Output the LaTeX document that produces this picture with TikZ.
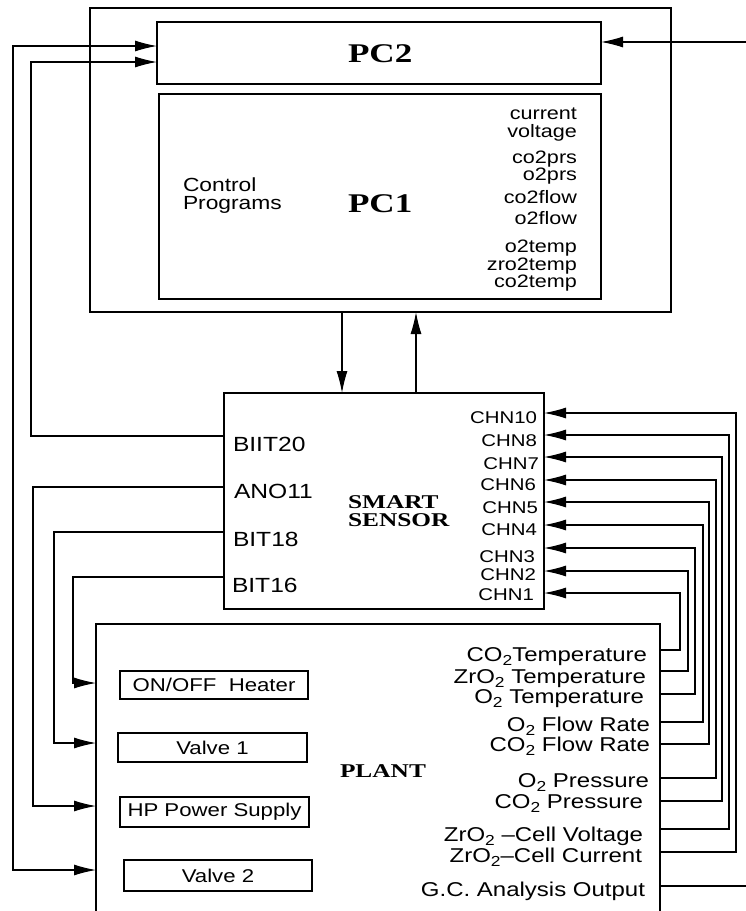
\documentclass[tikz,border=0pt]{standalone}
\usepackage{fontspec}
\usetikzlibrary{arrows.meta}
\newfontfamily\sfa[FakeStretch=1.2]{Liberation Sans}
\newfontfamily\srb[FakeStretch=1.3]{Liberation Serif}
\newcommand\fsz[1]{\fontsize{#1}{#1}\selectfont}
\newcommand\subtwo{\raisebox{-4pt}{\fontsize{14.5}{14.5}\selectfont 2}}
\begin{document}
\begin{tikzpicture}[x=1pt,y=-1pt,
  box/.style={draw, rectangle, inner sep=0pt, outer sep=0pt, anchor=north west},
  bigbox/.style={box, line width=2pt},
  smallbox/.style={box, line width=1.1pt, font=\sfa\fsz{18.5}},
  wire/.style={line width=1.1pt},
  arr/.style={wire, -{Latex[length=22pt,width=11pt]}},
  darr/.style={wire, {Latex[length=22pt,width=11pt]}-{Latex[length=22pt,width=11pt]}},
  txt/.style={inner sep=0pt, outer sep=0pt},
  pclab/.style={txt, anchor=base east, font=\sfa\fsz{18}},
  cplab/.style={txt, anchor=base west, font=\sfa\fsz{19}},
  inlab/.style={txt, anchor=base west, font=\sfa\fsz{20.5}},
  chlab/.style={txt, anchor=base east, font=\sfa\fsz{17}},
  pllab/.style={txt, anchor=base east, font=\sfa\fsz{20}},
  ttl/.style={txt, anchor=base west, font=\srb\bfseries\fsz{19.5}},
  bigttl/.style={txt, anchor=base west, font=\srb\bfseries\fsz{27}},
]
\useasboundingbox (0,0) rectangle (746,911);
\fill[white] (0,0) rectangle (746,911);
\begin{scope}
\clip (0,0) rectangle (746,911);

% ---------- boxes ----------
\node[bigbox, minimum width=581pt, minimum height=304pt] (pc) at (90,8) {};
\node[box, line width=1.1pt, minimum width=444pt, minimum height=62pt] (pc2) at (157,22) {};
\node[box, line width=1.1pt, minimum width=442pt, minimum height=205pt] (pc1) at (159,94) {};
\node[bigbox, minimum width=320pt, minimum height=216pt] (sensor) at (224,393) {};
\node[bigbox, minimum width=564pt, minimum height=340pt] (plant) at (96,624) {};

\node[smallbox, minimum width=188pt, minimum height=28pt] (heater) at (120,671) {ON/OFF\ \ Heater};
\node[smallbox, minimum width=189pt, minimum height=29pt] (valve1) at (118,733) {Valve 1};
\node[smallbox, minimum width=189pt, minimum height=30pt] (hp) at (120,797) {HP Power Supply};
\node[smallbox, minimum width=188pt, minimum height=31pt] (valve2) at (124,860) {Valve 2};

% ---------- titles ----------
\node[bigttl] (pc2t) at (348,62) {PC2};
\node[bigttl] (pc1t) at (348,212) {PC1};
\node[ttl] (smartt) at (348,508) {SMART};
\node[ttl] (sensort) at (348,526) {SENSOR};
\node[ttl] (plantt) at (340,777) {PLANT};

% ---------- PC1 texts ----------
\node[cplab] (cp1) at (183,191) {Control};
\node[cplab] (cp2) at (183,209) {Programs};
\node[pclab] (l1) at (577,119) {current};
\node[pclab] (l2) at (577,137) {voltage};
\node[pclab] (l3) at (577,163) {co2prs};
\node[pclab] (l4) at (577,180) {o2prs};
\node[pclab] (l5) at (577,203) {co2flow};
\node[pclab] (l6) at (577,224) {o2flow};
\node[pclab] (l7) at (577,252) {o2temp};
\node[pclab] (l8) at (577,270) {zro2temp};
\node[pclab] (l9) at (577,287) {co2temp};

% ---------- sensor texts ----------
\node[inlab] (s1) at (233,451) {BIIT20};
\node[inlab] (s2) at (234,498) {ANO11};
\node[inlab] (s3) at (233,546) {BIT18};
\node[inlab] (s4) at (232,592) {BIT16};
\node[chlab] (ch10) at (537,423) {CHN10};
\node[chlab] (ch8) at (537,446) {CHN8};
\node[chlab] (ch7) at (539,469) {CHN7};
\node[chlab] (ch6) at (536,490) {CHN6};
\node[chlab] (ch5) at (538,513) {CHN5};
\node[chlab] (ch4) at (537,535) {CHN4};
\node[chlab] (ch3) at (535,562) {CHN3};
\node[chlab] (ch2) at (536,580) {CHN2};
\node[chlab] (ch1) at (534,600) {CHN1};

% ---------- plant texts ----------
\node[pllab] (p1) at (647,661) {CO\subtwo Temperature};
\node[pllab] (p2) at (646,683) {ZrO\subtwo\ Temperature};
\node[pllab] (p3) at (644,703) {O\subtwo\ Temperature};
\node[pllab] (p4) at (650,731) {O\subtwo\ Flow Rate};
\node[pllab] (p5) at (650,751) {CO\subtwo\ Flow Rate};
\node[pllab] (p6) at (649,787) {O\subtwo\ Pressure};
\node[pllab] (p7) at (643,808) {CO\subtwo\ Pressure};
\node[pllab] (p8) at (643,841) {ZrO\subtwo\ –Cell Voltage};
\node[pllab] (p9) at (642,862) {ZrO\subtwo–Cell Current};
\node[pllab] (p10) at (645,896) {G.C. Analysis Output};

% ---------- left wires ----------
\coordinate (a1) at (31,436); \coordinate (a2) at (31,62);
\draw[arr] (sensor.west |- a1) -- (a1) -- (a2) -- (pc2.west |- a2);
\coordinate (b1) at (13,46); \coordinate (b2) at (13,870);
\draw[darr] (pc2.west |- b1) -- (b1) -- (b2) -- (plant.west |- b2);
\coordinate (c1) at (33,487); \coordinate (c2) at (33,806);
\draw[arr] (sensor.west |- c1) -- (c1) -- (c2) -- (plant.west |- c2);
\coordinate (d1) at (54,532); \coordinate (d2) at (54,743);
\draw[arr] (sensor.west |- d1) -- (d1) -- (d2) -- (plant.west |- d2);
\coordinate (e1) at (73,577); \coordinate (e2) at (73,683);
\draw[arr] (sensor.west |- e1) -- (e1) -- (e2) -- (plant.west |- e2);

% ---------- PC <-> sensor ----------
\coordinate (f) at (342,0); \coordinate (g) at (416,0);
\draw[arr] (pc.south -| f) -- (sensor.north -| f);
\draw[arr] (sensor.north -| g) -- (pc.south -| g);

% ---------- right wires ----------
\coordinate (h) at (760,42);
\draw[arr] (h) -- (pc2.east |- h);
\coordinate (gc) at (760,886);
\draw[wire] (plant.east |- gc) -- (gc);
\foreach \yc/\xv/\yp in {593/680/650, 571/688/671, 548/695/694, 525/703/722,
    502/709/744, 480/716/778, 457/722/801, 435/729/829, 413/736/852}
  \draw[arr] (plant.east |- 0,\yp) -- (\xv,\yp) -- (\xv,\yc) -- (sensor.east |- 0,\yc);
\end{scope}
\end{tikzpicture}
\end{document}
